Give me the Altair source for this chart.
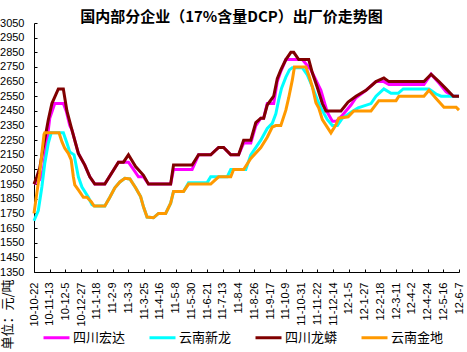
import altair as alt
import pandas as pd

series_names = ["四川宏达", "云南新龙", "四川龙蟒", "云南金地"]
series_colors = ["#FF00FF", "#00FFFF", "#800000", "#FF9900"]

tick_labels = ["10-10-22", "10-11-13", "10-12-5", "10-12-27", "11-1-18", "11-2-9", "11-3-3",
               "11-3-25", "11-4-16", "11-5-8", "11-5-30", "11-6-21", "11-7-13", "11-8-4",
               "11-8-26", "11-9-17", "11-10-9", "11-10-31", "11-11-22", "11-12-14", "12-1-5",
               "12-1-27", "12-2-18", "12-3-11", "12-4-2", "12-4-24", "12-5-16", "12-6-7"]
y_ticks = list(range(1350, 3051, 100))

hongda_dates = ["2010-10-22", "2010-10-30", "2010-11-04", "2010-11-08", "2010-11-13", "2010-11-20",
                "2010-12-02", "2010-12-06", "2010-12-11", "2010-12-14", "2010-12-23", "2011-01-01",
                "2011-01-08", "2011-01-15", "2011-01-29", "2011-02-17", "2011-03-03", "2011-03-10",
                "2011-03-17", "2011-03-24", "2011-03-31", "2011-05-01", "2011-05-05", "2011-05-31",
                "2011-06-09", "2011-06-26", "2011-07-07", "2011-07-14", "2011-07-24", "2011-08-04",
                "2011-08-11", "2011-08-21", "2011-08-28", "2011-09-04", "2011-09-08", "2011-09-13",
                "2011-09-22", "2011-09-27", "2011-10-02", "2011-10-09", "2011-11-01", "2011-11-13",
                "2011-11-27", "2011-12-06", "2011-12-13", "2011-12-19", "2011-12-27", "2012-01-08",
                "2012-01-15", "2012-01-29", "2012-02-12", "2012-02-23", "2012-03-01", "2012-04-19",
                "2012-04-29", "2012-05-10", "2012-05-20", "2012-05-30", "2012-06-07"]
hongda_prices = [1950, 1980, 2050, 2200, 2400, 2500,
                 2500, 2450, 2350, 2320, 2160, 2080,
                 2000, 1950, 1950, 2100, 2100, 2050,
                 2000, 2000, 1950, 1950, 2050, 2050,
                 2150, 2150, 2200, 2200, 2150, 2150,
                 2230, 2230, 2350, 2400, 2400, 2500,
                 2500, 2650, 2720, 2800, 2800, 2730,
                 2590, 2440, 2380, 2380, 2420, 2490,
                 2540, 2590, 2650, 2650, 2630, 2630,
                 2700, 2640, 2580, 2550, 2550]

xinlong_dates = ["2010-10-22", "2010-10-28", "2010-11-02", "2010-11-06", "2010-11-11", "2010-11-15",
                 "2010-12-02", "2010-12-07", "2010-12-11", "2010-12-17", "2010-12-23", "2010-12-28",
                 "2011-01-06", "2011-01-11", "2011-01-15", "2011-01-29", "2011-02-05", "2011-02-12",
                 "2011-02-19", "2011-02-26", "2011-03-05", "2011-03-13", "2011-03-20", "2011-03-24",
                 "2011-03-29", "2011-04-07", "2011-04-14", "2011-04-24", "2011-05-01", "2011-05-05",
                 "2011-05-19", "2011-05-26", "2011-06-21", "2011-06-26", "2011-07-19", "2011-07-24",
                 "2011-08-14", "2011-08-21", "2011-09-04", "2011-09-13", "2011-09-20", "2011-09-25",
                 "2011-09-29", "2011-10-03", "2011-10-09", "2011-10-14", "2011-10-18", "2011-11-01",
                 "2011-11-08", "2011-11-15", "2011-11-22", "2011-11-27", "2011-12-06", "2011-12-13",
                 "2011-12-20", "2011-12-27", "2012-01-08", "2012-01-18", "2012-02-05", "2012-02-12",
                 "2012-02-23", "2012-03-04", "2012-03-14", "2012-03-21", "2012-04-26", "2012-05-06",
                 "2012-05-13", "2012-06-07"]
xinlong_prices = [1700, 1770, 1930, 2090, 2230, 2300,
                  2300, 2230, 2170, 2150, 2000, 1930,
                  1860, 1810, 1800, 1800, 1860, 1925,
                  1965, 1990, 1985, 1925, 1865, 1795,
                  1725, 1720, 1750, 1750, 1820, 1900,
                  1900, 1960, 1960, 2000, 2000, 2050,
                  2050, 2150, 2250, 2330, 2365, 2430,
                  2525, 2605, 2680, 2730, 2745, 2745,
                  2695, 2615, 2525, 2470, 2390, 2350,
                  2350, 2400, 2440, 2470, 2500, 2550,
                  2600, 2570, 2570, 2600, 2600, 2565,
                  2550, 2550]

longmang_dates = ["2010-10-22", "2010-10-26", "2010-10-30", "2010-11-04", "2010-11-11", "2010-11-16",
                  "2010-11-25", "2010-12-02", "2010-12-07", "2010-12-14", "2010-12-23", "2011-01-01",
                  "2011-01-08", "2011-01-15", "2011-01-29", "2011-02-17", "2011-02-24", "2011-03-03",
                  "2011-03-13", "2011-03-24", "2011-03-31", "2011-05-01", "2011-05-05", "2011-05-31",
                  "2011-06-09", "2011-06-26", "2011-07-07", "2011-07-14", "2011-07-24", "2011-08-04",
                  "2011-08-11", "2011-08-21", "2011-08-28", "2011-09-04", "2011-09-08", "2011-09-13",
                  "2011-09-22", "2011-09-27", "2011-10-02", "2011-10-09", "2011-10-16", "2011-10-20",
                  "2011-10-27", "2011-11-10", "2011-11-15", "2011-11-22", "2011-11-29", "2011-12-04",
                  "2011-12-25", "2012-01-04", "2012-01-15", "2012-01-29", "2012-02-12", "2012-02-23",
                  "2012-03-01", "2012-04-19", "2012-04-29", "2012-05-10", "2012-05-20", "2012-05-30",
                  "2012-06-07"]
longmang_prices = [1950, 2000, 2060, 2200, 2390, 2500,
                   2600, 2600, 2450, 2320, 2160, 2080,
                   2000, 1950, 1950, 2100, 2100, 2150,
                   2070, 2010, 1950, 1950, 2080, 2080,
                   2150, 2150, 2200, 2200, 2150, 2150,
                   2250, 2250, 2370, 2400, 2400, 2490,
                   2550, 2670, 2730, 2800, 2850, 2850,
                   2800, 2800, 2710, 2610, 2500, 2450,
                   2450, 2510, 2550, 2590, 2650, 2675,
                   2650, 2650, 2700, 2650, 2600, 2550,
                   2550]

jindi_dates = ["2010-10-22", "2010-10-26", "2010-10-30", "2010-11-02", "2010-11-05", "2010-11-06",
               "2010-11-26", "2010-11-30", "2010-12-04", "2010-12-09", "2010-12-13", "2010-12-16",
               "2010-12-18", "2010-12-23", "2010-12-30", "2011-01-04", "2011-01-10", "2011-01-14",
               "2011-01-29", "2011-02-05", "2011-02-12", "2011-02-19", "2011-02-26", "2011-03-05",
               "2011-03-13", "2011-03-20", "2011-03-24", "2011-03-29", "2011-04-07", "2011-04-14",
               "2011-04-24", "2011-05-01", "2011-05-05", "2011-05-19", "2011-05-26", "2011-06-26",
               "2011-07-07", "2011-07-24", "2011-07-28", "2011-08-11", "2011-08-21", "2011-09-04",
               "2011-09-13", "2011-09-20", "2011-09-25", "2011-10-02", "2011-10-09", "2011-10-13",
               "2011-10-18", "2011-10-21", "2011-11-06", "2011-11-10", "2011-11-15", "2011-11-20",
               "2011-11-24", "2011-11-29", "2011-12-11", "2011-12-18", "2011-12-22", "2012-01-04",
               "2012-01-12", "2012-02-05", "2012-02-16", "2012-03-11", "2012-03-15", "2012-04-19",
               "2012-04-26", "2012-05-06", "2012-05-17", "2012-06-03", "2012-06-07"]
jindi_prices = [1750, 1890, 2025, 2160, 2290, 2300,
                2300, 2240, 2195, 2160, 2115, 2000,
                1945, 1910, 1860, 1860, 1830, 1800,
                1800, 1860, 1925, 1965, 1990, 1985,
                1925, 1865, 1795, 1725, 1720, 1750,
                1750, 1820, 1900, 1900, 1950, 1950,
                2000, 2000, 2050, 2050, 2125, 2200,
                2270, 2340, 2350, 2350, 2455, 2540,
                2660, 2750, 2750, 2695, 2615, 2505,
                2470, 2390, 2300, 2355, 2400, 2410,
                2450, 2450, 2520, 2520, 2550, 2550,
                2590, 2535, 2475, 2475, 2455]

series_data = [(hongda_dates, hongda_prices), (xinlong_dates, xinlong_prices),
               (longmang_dates, longmang_prices), (jindi_dates, jindi_prices)]

rows = []
for name, (dates, prices) in zip(series_names, series_data):
    for i, (d, p) in enumerate(zip(dates, prices)):
        rows.append({"series": name, "date": d.replace("-", "/"), "price": p, "order": i})
df = pd.DataFrame(rows)


def to_dt(label):
    yy, mm, dd = label.split("-")
    return alt.DateTime(year=2000 + int(yy), month=int(mm), date=int(dd))


x_values = [to_dt(s) for s in tick_labels]
x_scale = alt.Scale(domain=[x_values[0], x_values[-1]])
y_scale = alt.Scale(domain=[1350, 3050], nice=False, zero=False)
lab_font = "Liberation Sans"
cjk_font = "Noto Sans CJK SC"

lines = alt.Chart(df).mark_line(strokeWidth=3).encode(
    x=alt.X("date:T", scale=x_scale,
            axis=alt.Axis(values=x_values, format="%y-%-m-%-d", labelAngle=270,
                          labelAlign="right", labelBaseline="middle", labelPadding=10,
                          labelFontSize=11, labelFont=lab_font, labelColor="black",
                          labelOverlap=False, labelFlush=False, labelBound=False,
                          ticks=False, tickSize=0, domainColor="black", domainWidth=1,
                          grid=False, title=None, orient="bottom")),
    y=alt.Y("price:Q", scale=y_scale,
            axis=alt.Axis(values=y_ticks, format="d", labelFontSize=11, labelFont=lab_font,
                          labelColor="black", labelPadding=10, labelOverlap=False,
                          labelFlush=False, ticks=False, tickSize=0, domainColor="black",
                          domainWidth=1, grid=False, orient="left",
                          title="单位：元/吨", titleFont=cjk_font, titleFontSize=13,
                          titleFontWeight="normal", titleColor="black", titleAngle=270,
                          titleAlign="left", titleBaseline="bottom", titleX=-20, titleY=326)),
    color=alt.Color("series:N", scale=alt.Scale(domain=series_names, range=series_colors),
                    legend=alt.Legend(title=None, orient="none", legendX=8, legendY=300,
                                      direction="horizontal", columns=4, symbolType="stroke",
                                      symbolSize=676, symbolStrokeWidth=3, labelFont=cjk_font,
                                      labelFontSize=13, labelColor="black", labelOffset=2,
                                      columnPadding=17, padding=0, labelLimit=200)),
    order=alt.Order("order:Q"),
)

tick_layer = alt.Chart(df).mark_line(opacity=0).encode(
    x=alt.X("date:T", scale=x_scale,
            axis=alt.Axis(values=x_values, labels=False, domain=False, ticks=True, tickSize=3,
                          tickColor="black", offset=-3, grid=False, title=None, orient="bottom")),
    y=alt.Y("price:Q", scale=y_scale,
            axis=alt.Axis(values=y_ticks, labels=False, domain=False, ticks=True, tickSize=3,
                          tickColor="black", offset=-3, grid=False, title=None, orient="left")),
    detail="series:N",
)

chart = alt.layer(lines, tick_layer).resolve_axis(x="independent", y="independent").properties(
    width=425, height=249,
    autosize=alt.AutoSizeParams(type="none"),
    padding={"left": 34, "top": 23, "right": 8, "bottom": 80},
    background="white",
    title=alt.TitleParams("国内部分企业（17%含量DCP）出厂价走势图", font=cjk_font, fontSize=15,
                          fontWeight="bold", color="black", anchor="middle", dx=-15, dy=12,
                          offset=4),
).configure_view(stroke=None)

chart.save("out.html", embed_options={"renderer": "svg", "actions": False})
